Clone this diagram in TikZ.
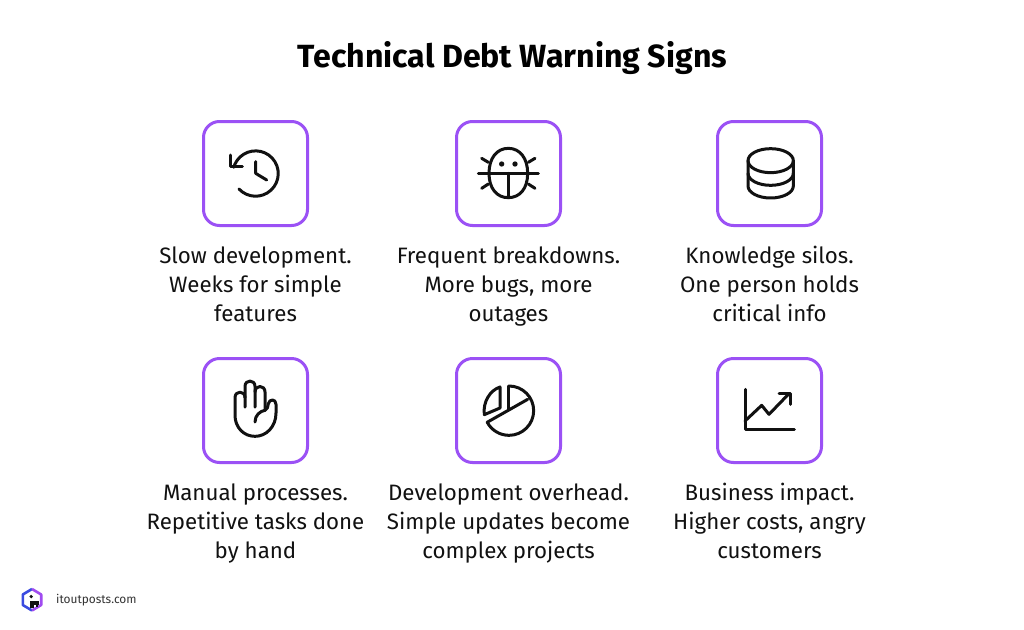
\documentclass[tikz,border=0pt]{standalone}
\usepackage{fontspec}
\setmainfont{Fira Sans}
\definecolor{ink}{HTML}{111111}
\definecolor{boxviolet}{HTML}{9B51F5}
\definecolor{logoblue}{HTML}{3A4BE0}
\definecolor{logoviolet}{HTML}{A04BF0}
\definecolor{logotext}{HTML}{333333}
\tikzset{
  iconbox/.style={draw=boxviolet,line width=3pt,rounded corners=16pt,fill=white,minimum width=104pt,minimum height=104pt,inner sep=0pt},
  body/.style={font=\fontsize{22.3}{29}\selectfont,text=ink,align=center,anchor=north},
  ic/.style={draw=ink,line width=3pt,line cap=round,line join=round},
  zm/.style={x=0.33333pt,y=-0.33333pt}
}
\begin{document}
\begin{tikzpicture}[x=1pt,y=-1pt]
\useasboundingbox (0,0) rectangle (1024,629);
\fill[white] (0,0) rectangle (1024,629);
\node[font=\fontsize{32.1}{36}\selectfont\bfseries,text=black] (title) at (512.5,58) {Technical Debt Warning Signs};
\node[iconbox] (b1) at (255.5,173.5) {};
\node[iconbox] (b2) at (508.5,173.5) {};
\node[iconbox] (b3) at (769.5,173.5) {};
\node[iconbox] (b4) at (255.5,410.5) {};
\node[iconbox] (b5) at (508.5,410.5) {};
\node[iconbox] (b6) at (769.5,410.5) {};
\node[body] (t1) at (255.5,243) {Slow development.\\Weeks for simple\\features};
\node[body] (t2) at (508.5,243) {Frequent breakdowns.\\More bugs, more\\outages};
\node[body] (t3) at (769.5,243) {Knowledge silos.\\One person holds\\critical info};
\node[body] (t4) at (255.5,480) {Manual processes.\\Repetitive tasks done\\by hand};
\node[body] (t5) at (508.5,480) {Development overhead.\\Simple updates become\\complex projects};
\node[body] (t6) at (769.5,480) {Business impact.\\Higher costs, angry\\customers};
% clock
\begin{scope}[shift={(190,110)},zm]
\draw[ic] (147,237) arc[start angle=137,end angle=-164,radius=68];
\draw[ic] (120,135) -- (120,170) -- (157,170);
\draw[ic] (197,155) -- (197,190) -- (230,210);
\end{scope}
% bug
\begin{scope}[shift={(445,110)},zm]
\draw[ic] (132,190) .. controls (132,145) and (155,115) .. (190,115) .. controls (225,115) and (248,145) .. (248,190) .. controls (248,235) and (225,263) .. (190,263) .. controls (155,263) and (132,235) .. (132,190) -- cycle;
\draw[ic] (100,190) -- (280,190) (190,190) -- (190,263);
\draw[ic] (110,145) -- (130,157) (270,145) -- (250,157) (110,235) -- (130,222) (270,235) -- (250,222);
\fill[ink] (170,162) circle[radius=8] (210,162) circle[radius=8];
\end{scope}
% database
\begin{scope}[shift={(705,110)},zm]
\draw[ic] (197,152) ellipse[x radius=68,y radius=36];
\draw[ic] (129,152) -- (129,228) arc[start angle=180,end angle=0,x radius=68,y radius=36] -- (265,152);
\draw[ic] (129,190) arc[start angle=180,end angle=0,x radius=68,y radius=36];
\end{scope}
% hand
\begin{scope}[shift={(190,347)},zm]
\draw[ic] (195,225) .. controls (195,205) and (210,192) .. (225,190)
  .. controls (232,188) and (233,180) .. (235,170)
  .. controls (238,155) and (258,155) .. (258,172) -- (258,198)
  .. controls (258,240) and (228,268) .. (195,268)
  .. controls (160,268) and (135,240) .. (135,205) -- (135,152)
  .. controls (135,130) and (165,130) .. (165,152) -- (165,180);
\draw[ic] (165,152) -- (165,118) .. controls (165,97) and (195,97) .. (195,118) -- (195,180);
\draw[ic] (195,135) .. controls (195,113) and (225,113) .. (225,135) -- (225,190);
\end{scope}
% pie
\begin{scope}[shift={(445,347)},zm]
\draw[ic] (192,117) arc[start angle=-90,end angle=152,radius=74] -- (248,157);
\draw[ic] (190,117) -- (190,188);
\draw[ic] (165,120) .. controls (135,130) and (113,165) .. (118,203) -- (165,183) -- cycle;
\end{scope}
% chart
\begin{scope}[shift={(705,347)},zm]
\draw[ic] (120,127) -- (120,248) -- (268,248);
\draw[ic] (120,222) -- (170,175) -- (192,202) -- (250,142);
\draw[ic] (222,140) -- (255,140) -- (255,172);
\end{scope}
% logo
\draw[logoblue,line width=2.6pt,line join=round] (32,610.5) -- (22.8,605) -- (22.8,594.5) -- (32,589);
\draw[logoviolet,line width=2.6pt,line join=round] (32,589) -- (41.2,594.5) -- (41.2,605) -- (32,610.5);
\fill[ink] (31.2,596.5) circle[radius=1.8];
\fill[ink] (29.8,600.5) rectangle (33.8,608);
\fill[ink] (33.8,600.5) rectangle (39,605);
\fill[ink] (35.5,605) rectangle (38,606.5);
\node[font=\fontsize{11.9}{15}\selectfont,text=logotext,anchor=west,inner sep=0pt] (site) at (56,600) {itoutposts.com};
\end{tikzpicture}
\end{document}
